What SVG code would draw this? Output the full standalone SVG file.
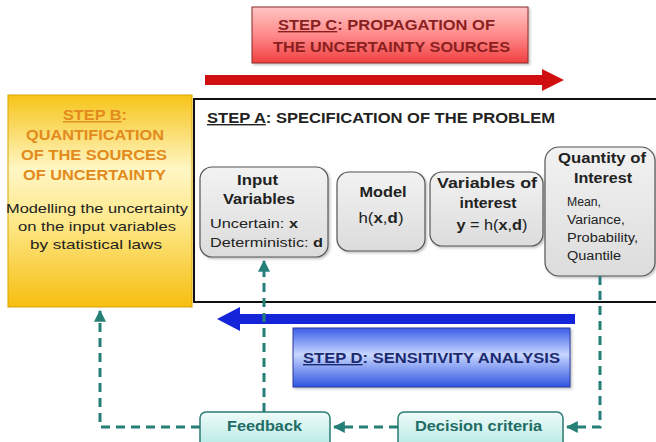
<svg xmlns="http://www.w3.org/2000/svg" width="656" height="442" viewBox="0 0 656 442">
<defs>
<linearGradient id="gC" x1="0" y1="0" x2="0" y2="1"><stop offset="0" stop-color="#ffc4c4"/><stop offset="0.5" stop-color="#ff8a8a"/><stop offset="1" stop-color="#f04040"/></linearGradient>
<linearGradient id="gB" x1="0" y1="0" x2="0" y2="1"><stop offset="0" stop-color="#f6c419"/><stop offset="0.35" stop-color="#fff6c4"/><stop offset="0.6" stop-color="#fde88a"/><stop offset="1" stop-color="#f6be10"/></linearGradient>
<linearGradient id="gD" x1="0" y1="0" x2="0" y2="1"><stop offset="0" stop-color="#3a5ee8"/><stop offset="0.45" stop-color="#c8d6ff"/><stop offset="1" stop-color="#2f55e0"/></linearGradient>
<linearGradient id="gN" x1="0" y1="0" x2="0" y2="1"><stop offset="0" stop-color="#f2f2f2"/><stop offset="1" stop-color="#dcdcdc"/></linearGradient>
<linearGradient id="gT" x1="0" y1="0" x2="0" y2="1"><stop offset="0" stop-color="#eefbf9"/><stop offset="1" stop-color="#b6e9e3"/></linearGradient>
<filter id="sh" x="-10%" y="-10%" width="130%" height="130%"><feDropShadow dx="1.5" dy="1.5" stdDeviation="1" flood-color="#000" flood-opacity="0.25"/></filter>
<marker id="ah" viewBox="0 0 10 10" refX="9" refY="5" markerWidth="4" markerHeight="4" orient="auto"><path d="M0,0 L10,5 L0,10 z" fill="#267f76"/></marker>
<style>
text{font-family:"Liberation Sans",Arial,sans-serif;fill:#222}
.b{font-weight:bold}
.node{fill:url(#gN);stroke:#555;stroke-width:1.2;filter:url(#sh)}
.fb{fill:url(#gT);stroke:#2a7a72;stroke-width:1.5}
.dash{fill:none;stroke:#267f76;stroke-width:3;stroke-dasharray:9 6}
.or{fill:#e28a1c}
.rd{fill:#8a1f1f}
.tl{fill:#1f6d66}
</style>
</defs>

<g id="stepC">
<rect x="252" y="7" width="276" height="56" fill="url(#gC)" stroke="#8a2a2a" stroke-width="1" filter="url(#sh)"/>
<text x="386.5" y="30" text-anchor="middle" class="b rd" font-size="14" textLength="217" lengthAdjust="spacingAndGlyphs"><tspan text-decoration="underline">STEP C</tspan>: PROPAGATION OF</text>
<text x="391.5" y="52" text-anchor="middle" class="b rd" font-size="14" textLength="237" lengthAdjust="spacingAndGlyphs">THE UNCERTAINTY SOURCES</text>
</g>

<g id="arrowC">
<path d="M205,75 L542,75 L542,69 L564,80 L542,91 L542,85 L205,85 z" fill="#d01010"/>
</g>

<g id="stepB">
<rect x="8" y="95" width="184" height="212" fill="url(#gB)" stroke="#d9a400" stroke-width="1"/>
<text x="95" y="120" text-anchor="middle" class="b or" font-size="14" textLength="64" lengthAdjust="spacingAndGlyphs"><tspan text-decoration="underline">STEP B</tspan>:</text>
<text x="95" y="140" text-anchor="middle" class="b or" font-size="14" textLength="138" lengthAdjust="spacingAndGlyphs">QUANTIFICATION</text>
<text x="94" y="160" text-anchor="middle" class="b or" font-size="14" textLength="146" lengthAdjust="spacingAndGlyphs">OF THE SOURCES</text>
<text x="94.5" y="180" text-anchor="middle" class="b or" font-size="14" textLength="143" lengthAdjust="spacingAndGlyphs">OF UNCERTAINTY</text>
<text x="97" y="213" text-anchor="middle" font-size="13.5" textLength="182" lengthAdjust="spacingAndGlyphs">Modelling the uncertainty</text>
<text x="97" y="231" text-anchor="middle" font-size="13.5" textLength="158" lengthAdjust="spacingAndGlyphs">on the input variables</text>
<text x="96" y="249" text-anchor="middle" font-size="13.5" textLength="132" lengthAdjust="spacingAndGlyphs">by statistical laws</text>
</g>

<g id="stepA">
<rect x="194" y="99" width="470" height="203" fill="#fff" stroke="#111" stroke-width="2"/>
<text x="207" y="123" class="b" font-size="14" textLength="348" lengthAdjust="spacingAndGlyphs"><tspan text-decoration="underline">STEP A</tspan>: SPECIFICATION OF THE PROBLEM</text>
</g>

<g id="inputVariables">
<rect x="200" y="167" width="128" height="90" rx="12" class="node"/>
<text x="257.5" y="185" text-anchor="middle" class="b" font-size="14" textLength="41" lengthAdjust="spacingAndGlyphs">Input</text>
<text x="259" y="204" text-anchor="middle" class="b" font-size="14" textLength="72" lengthAdjust="spacingAndGlyphs">Variables</text>
<text x="210" y="228" font-size="13.5" textLength="88" lengthAdjust="spacingAndGlyphs">Uncertain: <tspan class="b">x</tspan></text>
<text x="210" y="247" font-size="13.5" textLength="113" lengthAdjust="spacingAndGlyphs">Deterministic: <tspan class="b">d</tspan></text>
</g>

<g id="model">
<rect x="337" y="172" width="88" height="79" rx="12" class="node"/>
<text x="383" y="197" text-anchor="middle" class="b" font-size="14" textLength="47" lengthAdjust="spacingAndGlyphs">Model</text>
<text x="381" y="223" text-anchor="middle" font-size="14" textLength="45" lengthAdjust="spacingAndGlyphs">h(<tspan class="b">x</tspan>,<tspan class="b">d</tspan>)</text>
</g>

<g id="variablesOfInterest">
<rect x="430" y="172" width="113" height="74" rx="12" class="node"/>
<text x="487" y="188" text-anchor="middle" class="b" font-size="14" textLength="100" lengthAdjust="spacingAndGlyphs">Variables of</text>
<text x="488" y="208" text-anchor="middle" class="b" font-size="14" textLength="57" lengthAdjust="spacingAndGlyphs">interest</text>
<text x="492" y="230" text-anchor="middle" font-size="14" textLength="71" lengthAdjust="spacingAndGlyphs"><tspan class="b">y</tspan> = h(<tspan class="b">x</tspan>,<tspan class="b">d</tspan>)</text>
</g>

<g id="quantityOfInterest">
<rect x="545" y="147" width="110" height="129" rx="14" class="node"/>
<text x="602" y="163" text-anchor="middle" class="b" font-size="14" textLength="88" lengthAdjust="spacingAndGlyphs">Quantity of</text>
<text x="603" y="183" text-anchor="middle" class="b" font-size="14" textLength="58" lengthAdjust="spacingAndGlyphs">Interest</text>
<text x="567" y="206" font-size="12" textLength="34" lengthAdjust="spacingAndGlyphs">Mean,</text>
<text x="567" y="224" font-size="12" textLength="58" lengthAdjust="spacingAndGlyphs">Variance,</text>
<text x="567" y="242" font-size="12" textLength="71" lengthAdjust="spacingAndGlyphs">Probability,</text>
<text x="567" y="260" font-size="12" textLength="54" lengthAdjust="spacingAndGlyphs">Quantile</text>
</g>

<g id="arrowD">
<path d="M575,314 L240,314 L240,307 L217,319 L240,331 L240,324 L575,324 z" fill="#1424d8"/>
</g>

<g id="stepD">
<rect x="293" y="328" width="277" height="59" fill="url(#gD)" stroke="#2a3aa0" stroke-width="1" filter="url(#sh)"/>
<text x="431.5" y="363" text-anchor="middle" class="b" font-size="14" style="fill:#1c2a70" textLength="257" lengthAdjust="spacingAndGlyphs"><tspan text-decoration="underline">STEP D</tspan>: SENSITIVITY ANALYSIS</text>
</g>

<g id="connectors">
<path class="dash" d="M600,276 L600,427 L567,427" marker-end="url(#ah)"/>
<path class="dash" d="M398,427 L334,427" marker-end="url(#ah)"/>
<path class="dash" d="M264,412 L264,261" marker-end="url(#ah)"/>
<path class="dash" d="M200,427 L100,427 L100,311" marker-end="url(#ah)"/>
</g>

<g id="feedback">
<rect x="200" y="412" width="130" height="36" rx="6" class="fb"/>
<text x="264.5" y="431" text-anchor="middle" class="b tl" font-size="14" textLength="75" lengthAdjust="spacingAndGlyphs">Feedback</text>
</g>

<g id="decisionCriteria">
<rect x="398" y="412" width="165" height="36" rx="6" class="fb"/>
<text x="478.5" y="431" text-anchor="middle" class="b tl" font-size="14" textLength="127" lengthAdjust="spacingAndGlyphs">Decision criteria</text>
</g>
</svg>
